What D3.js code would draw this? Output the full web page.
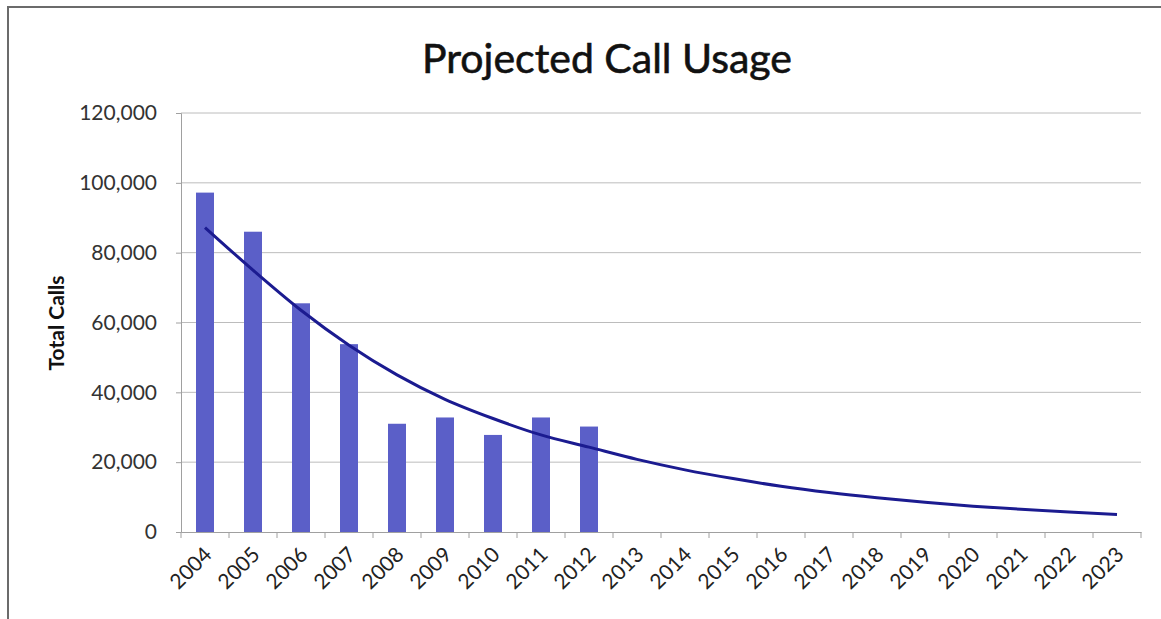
<!DOCTYPE html>
<html>
<head>
<meta charset="utf-8">
<script src="https://cdn.jsdelivr.net/npm/d3@7"></script>
<style>
  body { margin: 0; background: #fff; }
  svg { display: block; font-family: Lato, 'Open Sans', sans-serif; }
</style>
</head>
<body>
<div id="chart"></div>
<script>
// data
var years = ['2004', '2005', '2006', '2007', '2008', '2009', '2010', '2011', '2012', '2013',
  '2014', '2015', '2016', '2017', '2018', '2019', '2020', '2021', '2022', '2023']
var actualYears = ['2004', '2005', '2006', '2007', '2008', '2009', '2010', '2011', '2012']
var actualCalls = [97200, 86000, 65500, 53800, 31000, 32800, 27800, 32800, 30200]
var trendCalls = [87200, 75000, 63500, 53500, 45000, 38000, 32500, 27800, 24300, 20800,
  17800, 15300, 13100, 11300, 9800, 8500, 7400, 6500, 5700, 5000]
var yTicks = [0, 20000, 40000, 60000, 80000, 100000, 120000]

var width = 1161
var height = 619
var margin = { top: 113, left: 181, right: 20, bottom: 87 }
var fontFamily = 'Lato, "Open Sans", sans-serif'

var svg = d3.select('#chart')
  .append('svg')
  .attr('width', width)
  .attr('height', height)

// scan-like frame
svg.append('rect')
  .attr('x', 8)
  .attr('y', 7)
  .attr('width', 1200)
  .attr('height', 700)
  .attr('fill', 'none')
  .attr('stroke', '#6b6b6b')
  .attr('stroke-width', 2)

var xPositionScale = d3.scaleBand()
  .domain(years)
  .range([margin.left, width - margin.right])

var yPositionScale = d3.scaleLinear()
  .domain([0, 120000])
  .range([height - margin.bottom, margin.top])

// gridlines
svg.append('g')
  .selectAll('line')
  .data(yTicks.filter(d => d > 0))
  .enter()
  .append('line')
  .attr('x1', margin.left)
  .attr('x2', width - margin.right)
  .attr('y1', d => yPositionScale(d))
  .attr('y2', d => yPositionScale(d))
  .attr('stroke', '#bcbcbc')
  .attr('stroke-width', 1)

// bars
var barWidth = 18
svg.append('g')
  .selectAll('rect')
  .data(actualCalls)
  .enter()
  .append('rect')
  .attr('x', (d, i) => xPositionScale(actualYears[i]) + xPositionScale.bandwidth() / 2 - barWidth / 2)
  .attr('y', d => yPositionScale(d))
  .attr('width', barWidth)
  .attr('height', d => yPositionScale(0) - yPositionScale(d))
  .attr('fill', '#5b5fc8')

// trend line
var line = d3.line()
  .x((d, i) => xPositionScale(years[i]) + xPositionScale.bandwidth() / 2)
  .y(d => yPositionScale(d))
  .curve(d3.curveMonotoneX)

svg.append('path')
  .datum(trendCalls)
  .attr('d', line)
  .attr('fill', 'none')
  .attr('stroke', '#1b1b90')
  .attr('stroke-width', 3)

// y axis
var yAxis = d3.axisLeft(yPositionScale)
  .tickValues(yTicks)
  .tickSize(5)
  .tickPadding(19)
  .tickFormat(d3.format(','))

var yG = svg.append('g')
  .attr('class', 'axis y-axis')
  .attr('transform', 'translate(' + margin.left + ',0)')
  .call(yAxis)
  .attr('font-family', fontFamily)
yG.selectAll('path, line').attr('stroke', '#a0a0a0')
yG.selectAll('text')
  .attr('font-size', 21)
  .attr('fill', '#333')

// x axis
var xAxis = d3.axisBottom(xPositionScale).tickSize(0)
var xG = svg.append('g')
  .attr('class', 'axis x-axis')
  .attr('transform', 'translate(0,' + yPositionScale(0) + ')')
  .call(xAxis)
  .attr('font-family', fontFamily)
xG.select('.domain').attr('stroke', '#a0a0a0')
xG.selectAll('text')
  .attr('font-size', 21)
  .attr('fill', '#222')
  .attr('text-anchor', 'end')
  .attr('dy', null)
  .attr('y', 0)
  .attr('transform', 'translate(8,24) rotate(-45)')

// boundary ticks between categories
svg.append('g')
  .selectAll('line')
  .data(years.concat(['end']))
  .enter()
  .append('line')
  .attr('x1', (d, i) => margin.left + i * xPositionScale.step())
  .attr('x2', (d, i) => margin.left + i * xPositionScale.step())
  .attr('y1', yPositionScale(0))
  .attr('y2', yPositionScale(0) + 6)
  .attr('stroke', '#a0a0a0')

// title
svg.append('text')
  .attr('x', 607)
  .attr('y', 73)
  .attr('text-anchor', 'middle')
  .attr('font-size', 41)
  .attr('fill', '#111')
  .attr('stroke', '#111')
  .attr('stroke-width', 0.6)
  .text('Projected Call Usage')

// y axis label
svg.append('text')
  .attr('transform', 'translate(64,323) rotate(-90)')
  .attr('text-anchor', 'middle')
  .attr('font-size', 21)
  .attr('font-weight', 'bold')
  .attr('fill', '#111')
  .text('Total Calls')
</script>
</body>
</html>
